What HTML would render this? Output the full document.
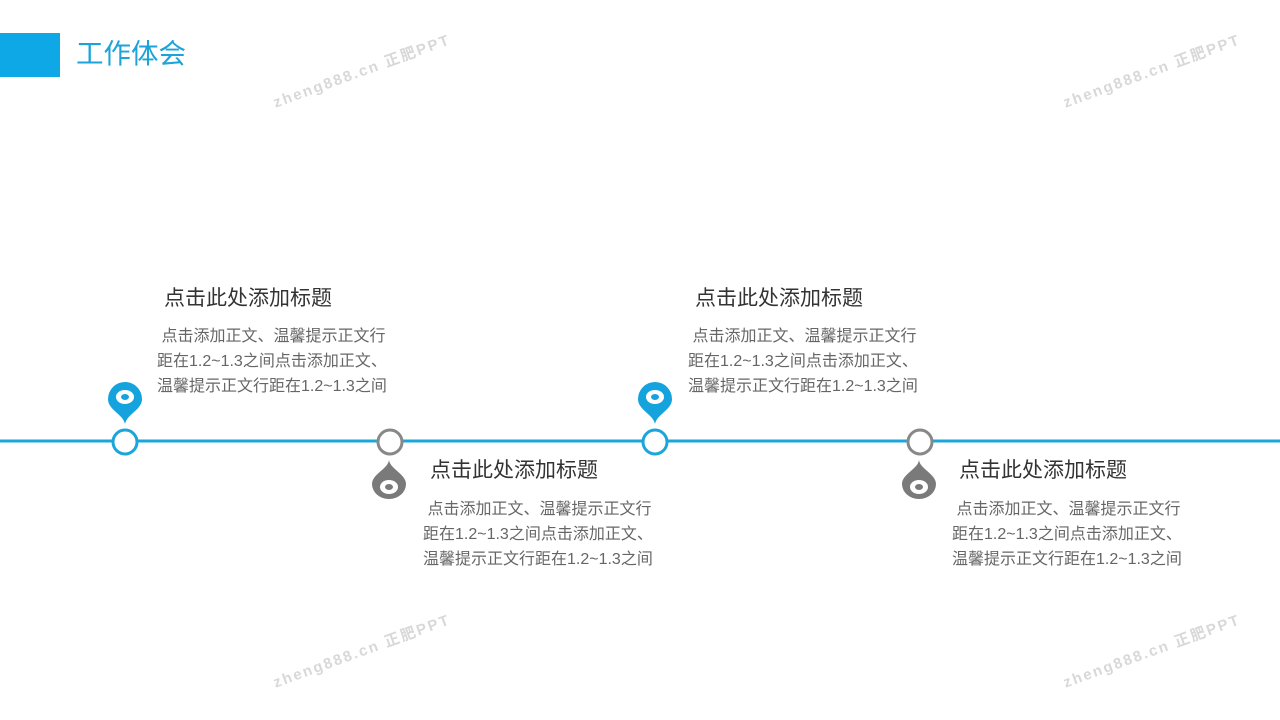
<!DOCTYPE html>
<html><head><meta charset="utf-8"><style>
html,body{margin:0;padding:0;background:#fff;}
body{width:1280px;height:720px;position:relative;overflow:hidden;font-family:"Liberation Sans","Noto Sans CJK SC",sans-serif;}
.a{position:absolute;}
.t{position:absolute;font-size:21px;color:#333;white-space:nowrap;line-height:24px;}
.b{position:absolute;font-size:16px;color:#666;line-height:25px;white-space:nowrap;}
.wm{position:absolute;color:#d8d8d8;font-size:15px;font-weight:bold;letter-spacing:2px;transform:rotate(-20deg);white-space:nowrap;}
</style></head><body>
<div class="a" style="left:0;top:33px;width:60px;height:44px;background:#0EA8E6"></div>
<div class="a" style="left:76px;top:37px;font-size:27.5px;color:#1BA3DA;line-height:34px;">工作体会</div>

<div class="wm" style="left:268px;top:60px;">zheng888.cn 正肥PPT</div>
<div class="wm" style="left:1058px;top:60px;">zheng888.cn 正肥PPT</div>
<div class="wm" style="left:268px;top:640px;">zheng888.cn 正肥PPT</div>
<div class="wm" style="left:1058px;top:640px;">zheng888.cn 正肥PPT</div>

<svg class="a" style="left:0;top:0" width="1280" height="720">
<line x1="0" y1="441" x2="1280" y2="441" stroke="#1AA6DB" stroke-width="3"/>
<g fill="#fff" stroke-width="3">
<circle cx="125" cy="442" r="12" stroke="#1AA6DB"/>
<circle cx="655" cy="442" r="12" stroke="#1AA6DB"/>
<circle cx="390" cy="442" r="12" stroke="#888"/>
<circle cx="920" cy="442" r="12" stroke="#888"/>
</g>
<path d="M125,424 C123,414 108,410 108,399 A17,17 0 0 1 142,399 C142,410 127,414 125,424 Z" fill="#14A3DC"/>
<ellipse cx="125" cy="397" rx="9" ry="7" fill="#fff"/><ellipse cx="125" cy="397" rx="4" ry="3" fill="#14A3DC"/>
<path d="M655,424 C653,414 638,410 638,399 A17,17 0 0 1 672,399 C672,410 657,414 655,424 Z" fill="#14A3DC"/>
<ellipse cx="655" cy="397" rx="9" ry="7" fill="#fff"/><ellipse cx="655" cy="397" rx="4" ry="3" fill="#14A3DC"/>
<path d="M389,460 C390,469 406,474 406,484 A17,15 0 0 1 372,484 C372,474 388,469 389,460 Z" fill="#7a7a7a"/>
<ellipse cx="389" cy="487" rx="9" ry="7" fill="#fff"/><ellipse cx="389" cy="487" rx="4" ry="3" fill="#7a7a7a"/>
<path d="M919,460 C920,469 936,474 936,484 A17,15 0 0 1 902,484 C902,474 918,469 919,460 Z" fill="#7a7a7a"/>
<ellipse cx="919" cy="487" rx="9" ry="7" fill="#fff"/><ellipse cx="919" cy="487" rx="4" ry="3" fill="#7a7a7a"/>
</svg>

<div class="t" style="left:164px;top:287px;">点击此处添加标题</div>
<div class="b" style="left:157px;top:324px;">&nbsp;点击添加正文、温馨提示正文行<br>距在1.2~1.3之间点击添加正文、<br>温馨提示正文行距在1.2~1.3之间</div>

<div class="t" style="left:695px;top:287px;">点击此处添加标题</div>
<div class="b" style="left:688px;top:324px;">&nbsp;点击添加正文、温馨提示正文行<br>距在1.2~1.3之间点击添加正文、<br>温馨提示正文行距在1.2~1.3之间</div>

<div class="t" style="left:430px;top:459px;">点击此处添加标题</div>
<div class="b" style="left:423px;top:497px;">&nbsp;点击添加正文、温馨提示正文行<br>距在1.2~1.3之间点击添加正文、<br>温馨提示正文行距在1.2~1.3之间</div>

<div class="t" style="left:959px;top:459px;">点击此处添加标题</div>
<div class="b" style="left:952px;top:497px;">&nbsp;点击添加正文、温馨提示正文行<br>距在1.2~1.3之间点击添加正文、<br>温馨提示正文行距在1.2~1.3之间</div>
</body></html>
